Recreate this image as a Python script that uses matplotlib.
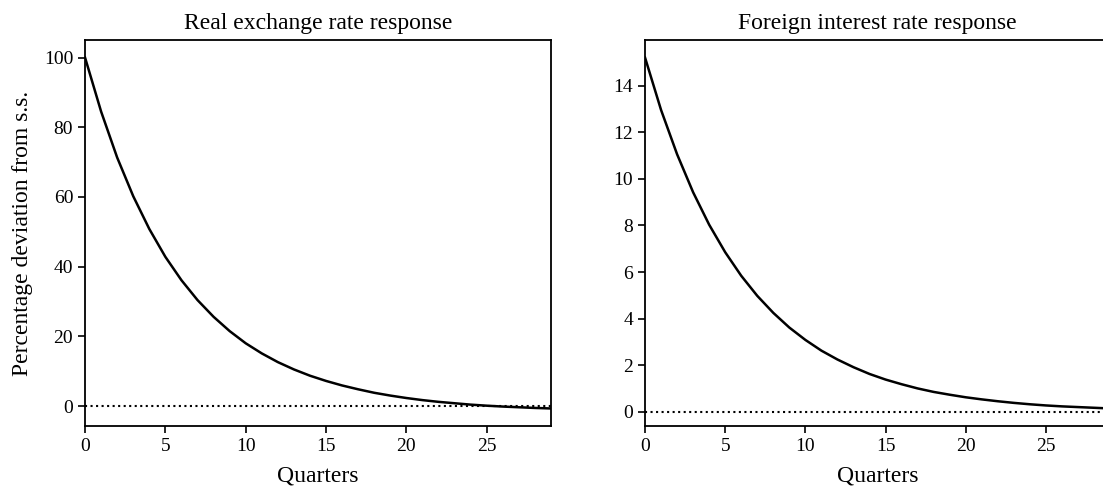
import numpy as np
import matplotlib
matplotlib.use("Agg")
from matplotlib import pyplot as plt

plt.rcParams['font.family'] = ['Liberation Serif', 'DejaVu Serif']
plt.rcParams['mathtext.fontset'] = 'stix'

# impulse responses, quarters 0..29
quarters = np.arange(30)
rer_irf = [100.0, 84.5, 71.3, 60.2, 50.8, 42.8, 36.1, 30.4, 25.6, 21.5,
           18.0, 15.1, 12.6, 10.5, 8.7, 7.2, 5.9, 4.8, 3.8, 3.0,
           2.3, 1.7, 1.2, 0.8, 0.4, 0.1, -0.15, -0.35, -0.55, -0.7]
rf_irf = [15.2, 12.95, 11.05, 9.42, 8.03, 6.85, 5.84, 4.98, 4.25, 3.62,
          3.09, 2.63, 2.25, 1.92, 1.63, 1.39, 1.19, 1.01, 0.86, 0.74,
          0.63, 0.54, 0.46, 0.39, 0.33, 0.28, 0.24, 0.21, 0.18, 0.15]

titles = ['Real exchange rate response', 'Foreign interest rate response']
ylabel = 'Percentage deviation from s.s.'
xlabel = 'Quarters'

fig = plt.figure(figsize=(11.03, 4.92), dpi=100)
ax1 = fig.add_axes([0.0771, 0.1341, 0.4225, 0.7846])
ax2 = fig.add_axes([0.5848, 0.1341, 0.4216, 0.7846])

for ax, y, title in zip([ax1, ax2], [rer_irf, rf_irf], titles):
    ax.plot(quarters, y, color='black', lw=1.8)
    ax.axhline(0, color='black', ls=':', lw=1.5)
    ax.set_xlim(0, 29)
    ax.set_xticks([0, 5, 10, 15, 20, 25])
    ax.set_title(title, fontsize=17, pad=8)
    ax.set_xlabel(xlabel, fontsize=17, labelpad=8)
    ax.tick_params(labelsize=14, width=1.2, length=5)
    for s in ax.spines.values():
        s.set_linewidth(1.3)

ax1.set_ylabel(ylabel, fontsize=17, labelpad=8)
ax1.set_yticks([0, 20, 40, 60, 80, 100])
ax2.set_yticks([0, 2, 4, 6, 8, 10, 12, 14])

fig.savefig('out.png', dpi=100)
